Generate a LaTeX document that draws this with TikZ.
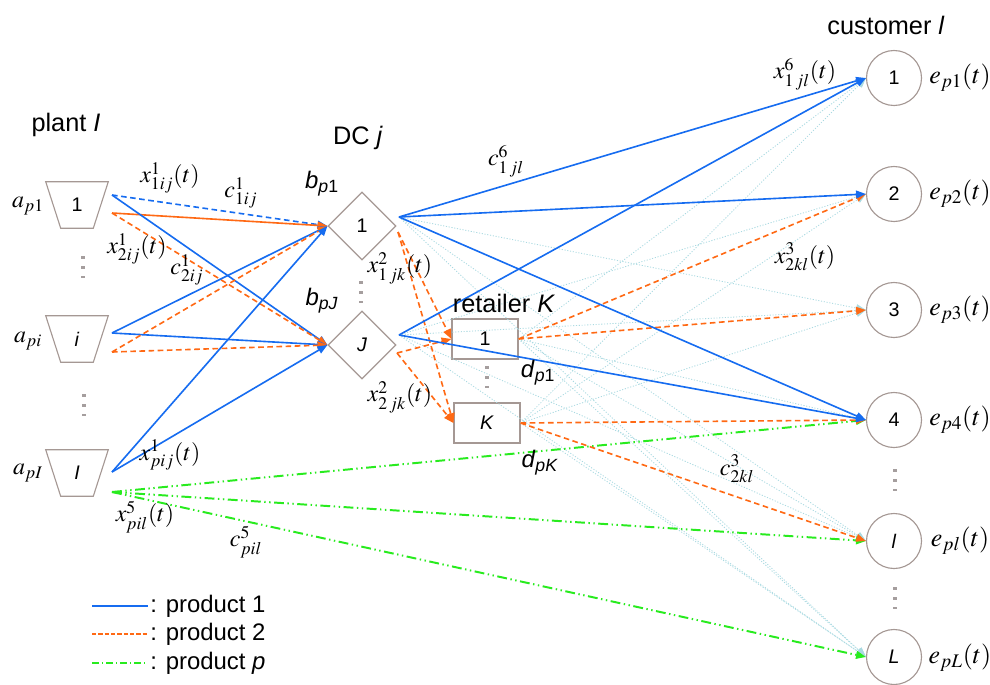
\documentclass[tikz,border=0pt]{standalone}
\usepackage{mathptmx}
\usepackage[no-math]{fontspec}
\setmainfont{Liberation Sans}
\usetikzlibrary{arrows.meta,shapes.geometric,calc}
\definecolor{cblue}{RGB}{22,108,240}
\definecolor{corange}{RGB}{255,105,20}
\definecolor{cgreen}{RGB}{40,235,30}
\definecolor{clight}{RGB}{170,218,225}
\definecolor{cborder}{RGB}{165,152,148}
\definecolor{cdots}{RGB}{165,158,158}
\begin{document}
\begin{tikzpicture}[x=0.025cm,y=-0.025cm,
  box/.style={draw=cborder, line width=0.8pt, inner sep=0pt, fill=white, font=\fontsize{14}{16}\selectfont},
  dcnode/.style={box, diamond, minimum width=1.7cm, minimum height=1.7cm},
  retnode/.style={box, rectangle, minimum width=1.65cm, minimum height=1.0cm},
  custnode/.style={box, circle, minimum size=1.375cm},
  plantnode/.style={inner sep=0pt, minimum width=1.55cm, minimum height=1.15cm, font=\fontsize{14}{16}\selectfont},
  tipa/.style={-{Triangle[length=7pt,width=5.5pt]}},
  prodone/.style={cblue, line width=1.15pt, tipa},
  prodoned/.style={prodone, dash pattern=on 4pt off 2.5pt},
  prodtwo/.style={corange, line width=1.15pt, dash pattern=on 4pt off 2.5pt, tipa},
  prodtwos/.style={corange, line width=1.15pt, tipa},
  prodp/.style={cgreen, line width=1.4pt, dash pattern=on 7pt off 2.5pt on 1pt off 2.5pt on 1pt off 2.5pt, tipa},
  lite/.style={clight, line width=0.6pt, dash pattern=on 0.8pt off 1.2pt, tipa},
  lab/.style={font=\fontsize{17}{19}\selectfont, inner sep=0pt},
  elab/.style={font=\fontsize{18.5}{21}\selectfont, inner sep=0pt},
  ttl/.style={font=\fontsize{18}{20}\selectfont, inner sep=0pt},
  leg/.style={font=\fontsize{17}{19}\selectfont, inner sep=0pt},
  dotsv/.style={cdots, line width=2.2pt, dash pattern=on 2.2pt off 5pt}
]
\useasboundingbox (0,0) rectangle (990,684);

% plants
\node[plantnode] (p1) at (77,205) {1};
\node[plantnode] (pi) at (77,339) {\textit{i}};
\node[plantnode] (pI) at (77,473) {\textit{I}};
\foreach \n in {p1,pi,pI}{
  \draw[draw=cborder, line width=0.8pt] (\n.north west) -- (\n.north east) -- ($(\n.south east)+(-15,0)$) -- ($(\n.south west)+(15,0)$) -- cycle;
}
% DCs
\node[dcnode] (dc1) at (362,226) {1};
\node[dcnode] (dcJ) at (362,345) {\textit{J}};
% retailers
\node[retnode] (r1) at (485,339) {1};
\node[retnode] (rK) at (487,423) {\textit{K}};
% customers
\node[custnode] (c1) at (894,78) {1};
\node[custnode] (c2) at (894,194) {2};
\node[custnode] (c3) at (894,310) {3};
\node[custnode] (c4) at (894,420) {4};
\node[custnode] (cl) at (894,541) {\textit{l}};
\node[custnode] (cL) at (894,657) {\textit{L}};

% ports
\coordinate (p1a) at (112,195);
\coordinate (p1b) at (112,213);
\coordinate (pia) at (112,333);
\coordinate (pib) at (112,352);
\coordinate (pIa) at (112,472);
\coordinate (pIb) at (112,492);
\coordinate (d1a) at (399,217);
\coordinate (d1b) at (398,232);
\coordinate (dJa) at (399,335);
\coordinate (dJb) at (397,353);

% light dotted flows
\foreach \t in {c3,cl,cL}{\draw[lite] (d1a) -- (\t.west);}
\foreach \t in {c2,c3,cl,cL}{\draw[lite] (dJa) -- (\t.west);}
\foreach \t in {c1,c4,cl,cL}{\draw[lite] (r1.east) -- (\t.west);}
\foreach \t in {c1,c2,c3,cL}{\draw[lite] (rK.east) -- (\t.west);}

% plant -> DC
\draw[prodoned] (p1a) -- (dc1.west);
\draw[prodtwos] (p1b) -- (dc1.west);
\draw[prodone] (p1a) -- (dcJ.west);
\draw[prodtwo] (p1b) -- (dcJ.west);
\draw[prodone] (pia) -- (dc1.west);
\draw[prodone] (pia) -- (dcJ.west);
\draw[prodtwo] (pib) -- (dc1.west);
\draw[prodtwo] (pib) -- (dcJ.west);
\draw[prodone] (pIa) -- (dc1.west);
\draw[prodone] (pIa) -- (dcJ.west);
% plant -> customer (product p)
\draw[prodp] (pIb) -- (c4.west);
\draw[prodp] (pIb) -- (cl.west);
\draw[prodp] (pIb) -- (cL.west);
% DC -> retailer
\draw[prodtwo] (d1b) -- (r1.west);
\draw[prodtwo] (d1b) -- (rK.west);
\draw[prodtwo] (dJb) -- (r1.west);
\draw[prodtwo] (dJb) -- (rK.west);
% retailer -> customer
\draw[prodtwo] (r1.east) -- (c2.west);
\draw[prodtwo] (r1.east) -- (c3.west);
\draw[prodtwo] (rK.east) -- (c4.west);
\draw[prodtwo] (rK.east) -- (cl.west);
% DC -> customer
\draw[prodone] (d1a) -- (c1.west);
\draw[prodone] (d1a) -- (c2.west);
\draw[prodone] (d1a) -- (c4.west);
\draw[prodone] (dJa) -- (c1.west);
\draw[prodone] (dJa) -- (c4.west);

% vertical dots
\draw[dotsv] (83,256) -- (83,278);
\draw[dotsv] (84,394) -- (84,416);
\draw[dotsv] (361,281) -- (361,303);
\draw[dotsv] (487,366) -- (487,388);
\draw[dotsv] (895,469) -- (895,491);
\draw[dotsv] (895,587) -- (895,609);

% titles
\node[ttl] (tplant) at (66,125) {plant \textit{I}};
\node[ttl] (tdc) at (358,138) {DC \textit{j}};
\node[ttl] (tret) at (504,303) {retailer \textit{K}};
\node[ttl] (tcust) at (886,25) {customer \textit{l}};

% parameter labels
\node[lab] (la1) at (28,206) {$a_{p1}$};
\node[lab] (lai) at (28,341) {$a_{pi}$};
\node[lab] (laI) at (28,473) {$a_{pI}$};
\node[lab] (lb1) at (322,184) {\textit{b}\textsubscript{\textit{p}1}};
\node[lab] (lbJ) at (322,301) {\textit{b}\textsubscript{\textit{pJ}}};
\node[lab] (ld1) at (538,373) {\textit{d}\textsubscript{\textit{p}1}};
\node[lab] (ldK) at (540,463) {\textit{d}\textsubscript{\textit{pK}}};
\foreach \n/\y/\s in {c1/78/1,c2/194/2,c3/310/3,c4/420/4}{
  \node[elab] (le\n) at (960,\y) {$e_{p\s}(t)$};
}
\node[elab] (lecl) at (960,541) {$e_{pl}(t)$};
\node[elab] (lecL) at (960,658) {$e_{pL}(t)$};

% flow labels
\node[lab] (x1) at (170,178) {$x^{1}_{1ij}(t)$};
\node[lab] (cc1) at (241,193) {$c^{1}_{1ij}$};
\node[lab] (x2) at (137,249) {$x^{1}_{2ij}(t)$};
\node[lab] (cc2) at (187,270) {$c^{1}_{2ij}$};
\node[lab] (xp) at (170,455) {$x^{1}_{pij}(t)$};
\node[lab] (x5) at (145,517) {$x^{5}_{pil}(t)$};
\node[lab] (cc5) at (246,542) {$c^{5}_{pil}$};
\node[lab] (cc6) at (506,161) {$c^{6}_{1\,jl}$};
\node[lab] (xjk1) at (400,268) {$x^{2}_{1\,jk}(t)$};
\node[lab] (xjk2) at (400,397) {$x^{2}_{2\,jk}(t)$};
\node[lab] (x6) at (805,74) {$x^{6}_{1\,jl}(t)$};
\node[lab] (x3) at (805,257) {$x^{3}_{2kl}(t)$};
\node[lab] (cc3) at (737,469) {$c^{3}_{2kl}$};

% legend
\coordinate (g1a) at (92,606); \coordinate (g1b) at (148,606);
\coordinate (g2a) at (92,634); \coordinate (g2b) at (148,634);
\coordinate (g3a) at (92,663); \coordinate (g3b) at (148,663);
\draw[cblue, line width=1.1pt] (g1a) -- (g1b);
\draw[corange, line width=1.1pt, dash pattern=on 3pt off 1.5pt] (g2a) -- (g2b);
\draw[cgreen, line width=1.1pt, dash pattern=on 5pt off 2pt on 1pt off 2pt] (g3a) -- (g3b);
\node[leg, anchor=west] (lg1) at (150,606) {: product 1};
\node[leg, anchor=west] (lg2) at (150,634) {: product 2};
\node[leg, anchor=west] (lg3) at (150,663) {: product \textit{p}};
\end{tikzpicture}
\end{document}
